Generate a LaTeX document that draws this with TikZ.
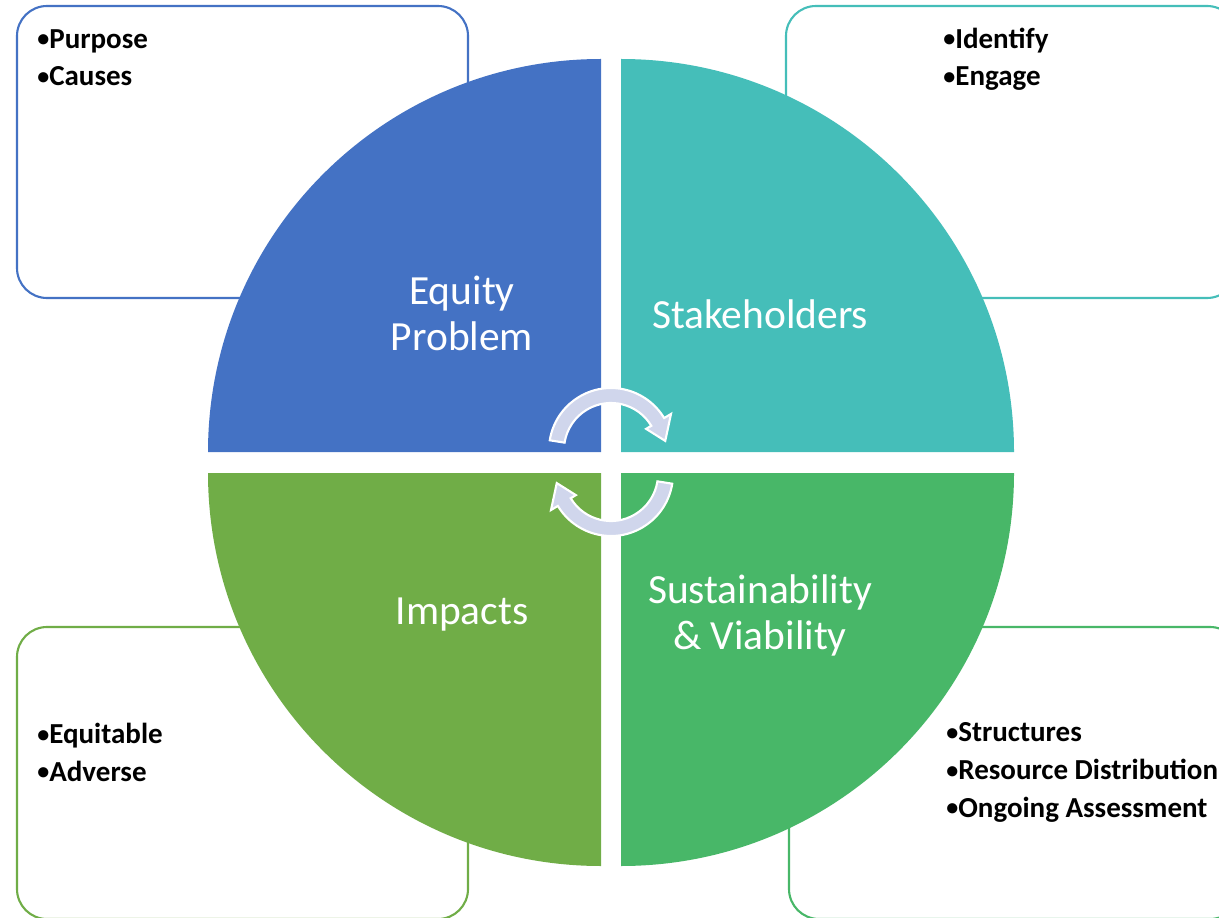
\documentclass[tikz,border=0pt]{standalone}
\usepackage{fontspec}
\setmainfont{Carlito}
\usetikzlibrary{positioning,calc}
\definecolor{EqBlue}{RGB}{68,114,196}
\definecolor{StTeal}{RGB}{69,190,185}
\definecolor{ImGreen}{RGB}{112,173,71}
\definecolor{SuGreen}{RGB}{72,183,104}
\definecolor{CycleLav}{RGB}{208,214,236}
\newcommand{\bul}{{\fontsize{13.7}{13.7}\selectfont\raisebox{0.6pt}{•}}}
\tikzset{
  notebox/.style={line width=1.2pt,rounded corners=0.6cm,fill=white},
  quadlab/.style={text=white,align=center,inner sep=0pt,
    font=\fontsize{23.6}{26.2}\selectfont},
  bullets/.style={align=left,anchor=base west,inner sep=0pt,
    font=\bfseries\fontsize{16.5}{21.6}\selectfont},
}
\tikzset{cycarrow/.style={fill=CycleLav,draw=white,line width=1.2pt,line join=miter}}

\begin{document}
\begin{tikzpicture}[x=0.02cm,y=0.02cm]
\useasboundingbox (0,0) rectangle (1219,917);
\clip (0,0) rectangle (1219,917);
% note boxes behind the wheel
\draw[notebox,draw=EqBlue] (17,619) rectangle (468,911);
\draw[notebox,draw=StTeal] (786,619) rectangle (1237,911);
\draw[notebox,draw=ImGreen] (17,-2) rectangle (468,290);
\draw[notebox,draw=SuGreen] (789,-2) rectangle (1240,290);
% wheel corners
\coordinate (qTL) at (601,465);
\coordinate (qTR) at (621,465);
\coordinate (qBL) at (601,444);
\coordinate (qBR) at (621,444);
\fill[EqBlue] (qTL) -- ++(-393,0) arc[start angle=180,end angle=90,radius=393] -- cycle;
\fill[StTeal] (qTR) -- ++(0,393) arc[start angle=90,end angle=0,radius=393] -- cycle;
\fill[ImGreen] (qBL) -- ++(-393,0) arc[start angle=180,end angle=270,radius=393] -- cycle;
\fill[SuGreen] (qBR) -- ++(393,0) arc[start angle=0,end angle=-90,radius=393] -- cycle;
\node[quadlab] (eq) at (462,604) {Equity\\Problem};
\node[quadlab] (st) at (760,603) {Stakeholders};
\node[quadlab] (im) at (462,302) {Impacts};
\node[quadlab] (su) at (760,302) {Sustainability\\\& Viability};
% cycle arrows
\begin{scope}[shift={(611,455)},shift={(0,12)}]
\draw[cycarrow] (171:62) arc[start angle=171,end angle=31,radius=62] -- (31:70)
  -- (9.5:55) -- (31:41) -- (31:47) arc[start angle=31,end angle=171,radius=47] -- cycle;
\end{scope}
\begin{scope}[shift={(611,455)},rotate=180,shift={(0,12)}]
\draw[cycarrow] (171:62) arc[start angle=171,end angle=31,radius=62] -- (31:70)
  -- (9.5:55) -- (31:41) -- (31:47) arc[start angle=31,end angle=171,radius=47] -- cycle;
\end{scope}
% bullet lists (anchored on the last line)
\node[bullets] (eqlist) at (37,831) {\bul Purpose\\\bul Causes};
\node[bullets] (stlist) at (943,831) {\bul Identify\\\bul Engage};
\node[bullets] (imlist) at (37,136) {\bul Equitable\\\bul Adverse};
\node[bullets] (sulist) at (946,100) {\bul Structures\\\bul Resource Distribution\\\bul Ongoing Assessment};
\end{tikzpicture}
\end{document}
